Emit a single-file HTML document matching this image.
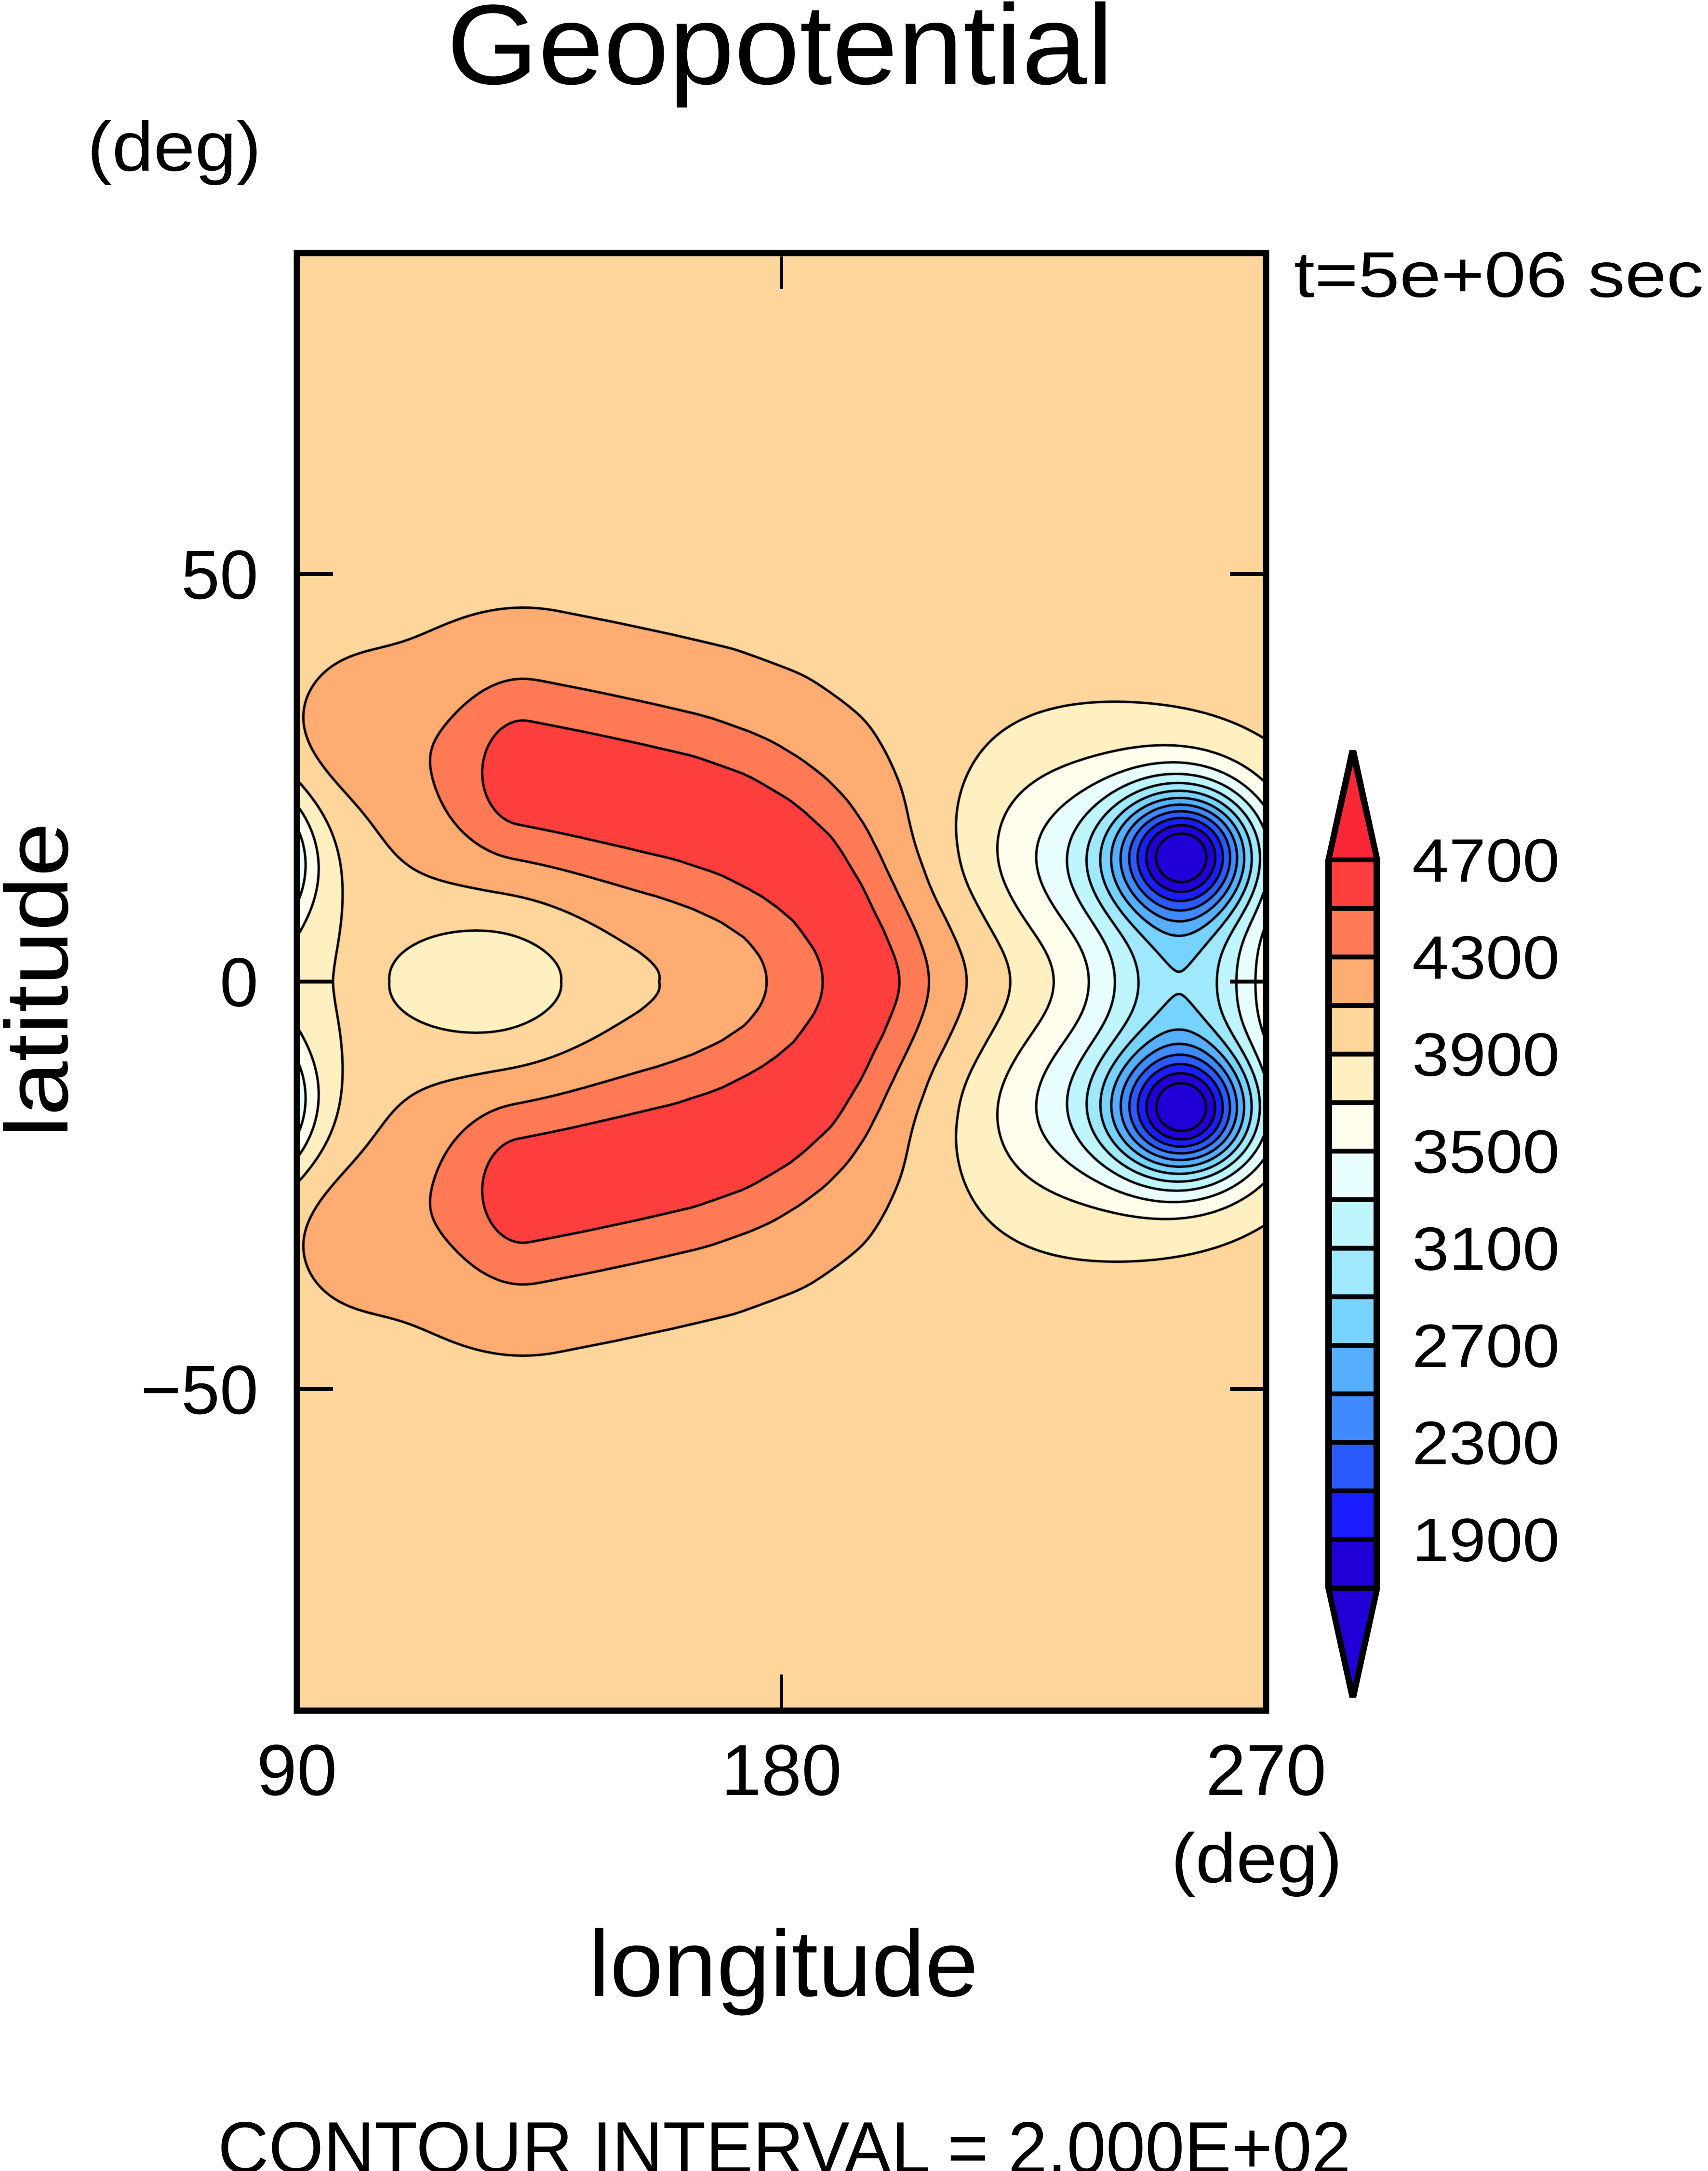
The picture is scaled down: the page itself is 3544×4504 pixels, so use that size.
<!DOCTYPE html>
<html><head><meta charset="utf-8">
<style>
html,body{margin:0;padding:0;background:#fff;}
#wrap{position:relative;width:3544px;height:4504px;overflow:hidden;background:#fff;}
#field{position:absolute;left:623px;top:532px;}
#ov{position:absolute;left:0;top:0;}
text{font-family:"Liberation Sans",sans-serif;fill:#000;}
</style></head>
<body>
<div id="wrap">
<canvas id="field" width="1997" height="3011"></canvas>
<svg id="ov" width="3544" height="4504" xmlns="http://www.w3.org/2000/svg">
  <text x="927" y="174" font-size="236" textLength="1383" lengthAdjust="spacingAndGlyphs">Geopotential</text>
  <text x="181" y="354" font-size="145" textLength="361" lengthAdjust="spacingAndGlyphs">(deg)</text>
  <text x="2685" y="616" font-size="134" textLength="850" lengthAdjust="spacingAndGlyphs">t=5e+06 sec</text>
  <text x="2430" y="3905" font-size="145" textLength="355" lengthAdjust="spacingAndGlyphs">(deg)</text>
  <text x="1221" y="4141" font-size="195" textLength="809" lengthAdjust="spacingAndGlyphs">longitude</text>
  <text transform="translate(140,2360) rotate(-90)" x="0" y="0" font-size="185" textLength="654" lengthAdjust="spacingAndGlyphs">latitude</text>
  <text x="452" y="4508" font-size="152" textLength="2351" lengthAdjust="spacingAndGlyphs">CONTOUR INTERVAL = 2.000E+02</text>
  <g id="axes"></g>
  <g id="cbar"></g>
</svg>
</div>
<script>
// ---- data ----
const levels=[1700,1900,2100,2300,2500,2700,2900,3100,3300,3500,3700,3900,4100,4300,4500,4700];
const levelColors=["#2000d6","#2000d6","#1a1efe","#2a5afe","#3e8afe","#56affe","#76d2fe","#9fe8fe","#bff5fd","#e9fefe","#fffeec","#fef0c0","#fed59a","#ffac73","#ff7a55","#ff3e3e","#fa2837"];
const colorbarLabels=[1900,2300,2700,3100,3500,3900,4300,4700];
const latTicks=[50,0,-50];
const latTickLabels=["50","0","\u221250"];
const lonTicks=[90,180,270];
const lonTickLabels=["90","180","270"];
const baseValue=4000;
// upper arm of the high ridge (lower arm is its mirror image)
const ridgeLon=[132,142,152,162,171,179,186,191,194.5,196];
const ridgeLat=[25.5,24.2,22.8,21.3,19.3,16.5,13,8.5,4,0];
const ridgeAmp=[250,420];
const ridgeSig=[6,12];
const ridgeLonStretch=[1.0,1.6];
const blobLon=[126,255,255,242,242,255,235,235,74,74,61,61,74,100,100];
const blobLat=[0,15.8,-16,14,-14,0,18,-18,15,-15,13,-13,0,31,-31];
const blobAmp=[-290,-1900,-1900,-550,-550,-700,-150,-150,-2600,-2600,-450,-450,-250,150,150];
const blobSigLon=[13.5,9,9,20,20,10,25,25,9,9,20,20,10,8,8];
const blobSigLat=[7.6,5.5,5.5,9,9,8,12,12,5.5,5.5,9,9,8,6,6];

// ---- axes ----
function X(lon){return 616+(lon-90)*11.172;}
function Y(lat){return 2036.5-lat*16.91;}
const CX=623, CY=532;

function armDist2(px,py,sign,S){
  let best=1e12;
  for(let i=0;i<ridgeLon.length-1;i++){
    const ax=ridgeLon[i]/S, ay=sign*ridgeLat[i];
    const dx=ridgeLon[i+1]/S-ax, dy=sign*ridgeLat[i+1]-ay;
    let t=((px-ax)*dx+(py-ay)*dy)/(dx*dx+dy*dy);
    if(t<0)t=0; if(t>1)t=1;
    const ex=px-ax-t*dx, ey=py-ay-t*dy;
    const d2=ex*ex+ey*ey;
    if(d2<best)best=d2;
  }
  return best;
}
function field(lon,lat){
  let v=baseValue;
  for(let k=0;k<ridgeAmp.length;k++){
    const S=ridgeLonStretch[k];
    const a=armDist2(lon/S,lat,1,S), b=armDist2(lon/S,lat,-1,S);
    const m=Math.min(a,b);
    const tau=0.25*m+5;
    const d2=Math.max(0,m-tau*Math.log(Math.exp(-(a-m)/tau)+Math.exp(-(b-m)/tau)));
    v+=ridgeAmp[k]*Math.exp(-d2/(2*ridgeSig[k]*ridgeSig[k]));
  }
  for(let q=0;q<blobLon.length;q++){
    const u=(lon-blobLon[q])/blobSigLon[q], c=(lat-blobLat[q])/blobSigLat[q];
    v+=blobAmp[q]*Math.exp(-0.5*(u*u+c*c));
  }
  return v;
}

// grid
const STEP=0.25, LON0=88, LAT0=-92;
const NX=Math.round((272-LON0)/STEP)+1, NY=Math.round((92-LAT0)/STEP)+1;
const G=new Float64Array(NX*NY);
for(let j=0;j<NY;j++)for(let i=0;i<NX;i++)G[j*NX+i]=field(LON0+i*STEP,LAT0+j*STEP);

const cv=document.getElementById('field');
const ctx=cv.getContext('2d');
const W=cv.width,H=cv.height;
const img=ctx.createImageData(W,H);
const rgb=levelColors.map(c=>[parseInt(c.substr(1,2),16),parseInt(c.substr(3,2),16),parseInt(c.substr(5,2),16)]);
function colorIndex(v){let k=0;while(k<levels.length&&v>=levels[k])k++;return k;}
for(let py=0;py<H;py++){
  const lat=(2036.5-(CY+py+0.5))/16.91;
  const gj=(lat-LAT0)/STEP; const j0=Math.floor(gj), fj=gj-j0;
  for(let px=0;px<W;px++){
    const lon=90+(CX+px+0.5-616)/11.172;
    const gi=(lon-LON0)/STEP; const i0=Math.floor(gi), fi=gi-i0;
    const a=G[j0*NX+i0],b=G[j0*NX+i0+1],c=G[(j0+1)*NX+i0],d=G[(j0+1)*NX+i0+1];
    const v=(a*(1-fi)+b*fi)*(1-fj)+(c*(1-fi)+d*fi)*fj;
    const col=rgb[colorIndex(v)];
    const o=(py*W+px)*4;
    img.data[o]=col[0];img.data[o+1]=col[1];img.data[o+2]=col[2];img.data[o+3]=255;
  }
}
ctx.putImageData(img,0,0);

// contours (marching squares)
ctx.strokeStyle='#000';ctx.lineWidth=5;ctx.lineCap='round';ctx.lineJoin='round';
function gx(i){return X(LON0+i*STEP)-CX;}
function gy(j){return Y(LAT0+j*STEP)-CY;}
for(const L of levels){
  ctx.beginPath();
  for(let j=0;j<NY-1;j++)for(let i=0;i<NX-1;i++){
    const v0=G[j*NX+i],v1=G[j*NX+i+1],v2=G[(j+1)*NX+i+1],v3=G[(j+1)*NX+i];
    const idx=(v0>L?1:0)|(v1>L?2:0)|(v2>L?4:0)|(v3>L?8:0);
    if(idx===0||idx===15)continue;
    const x0=gx(i),x1=gx(i+1),y0=gy(j),y1=gy(j+1);
    const e=[
      ()=>[x0+(x1-x0)*(L-v0)/(v1-v0),y0],
      ()=>[x1,y0+(y1-y0)*(L-v1)/(v2-v1)],
      ()=>[x0+(x1-x0)*(L-v3)/(v2-v3),y1],
      ()=>[x0,y0+(y1-y0)*(L-v0)/(v3-v0)]
    ];
    const segs={1:[[3,0]],2:[[0,1]],3:[[3,1]],4:[[1,2]],5:[[3,0],[1,2]],6:[[0,2]],7:[[3,2]],8:[[2,3]],9:[[0,2]],10:[[0,1],[2,3]],11:[[1,2]],12:[[1,3]],13:[[0,1]],14:[[0,3]]}[idx];
    for(const s of segs){const p=e[s[0]](),q=e[s[1]]();ctx.moveTo(p[0],p[1]);ctx.lineTo(q[0],q[1]);}
  }
  ctx.stroke();
}

// ---- SVG overlay ----
const NS='http://www.w3.org/2000/svg';
const axes=document.getElementById('axes');
const cbar=document.getElementById('cbar');
function el(tag,attrs,parent){const e=document.createElementNS(NS,tag);for(const k in attrs)e.setAttribute(k,attrs[k]);parent.appendChild(e);return e;}

const frame=el('rect',{x:616,y:525,width:2011,height:3024,fill:'none',stroke:'#000','stroke-width':13},axes);



latTicks.forEach((lat,k)=>{
  const y=Y(lat);
  const tl=el('line',{x1:623,y1:y,x2:691,y2:y,stroke:'#000','stroke-width':8},axes);
  
  
  const tr=el('line',{x1:2552,y1:y,x2:2620,y2:y,stroke:'#000','stroke-width':8},axes);
  
  
  const t=el('text',{x:536,y:y+51,'font-size':144,'text-anchor':'end'},axes);
  t.textContent=latTickLabels[k];
  
  
});
lonTicks.forEach((lon,k)=>{
  const x=X(lon);
  const tt=el('line',{x1:x,y1:532,x2:x,y2:600,stroke:'#000','stroke-width':7},axes);
  
  
  const tb=el('line',{x1:x,y1:3474,x2:x,y2:3543,stroke:'#000','stroke-width':7},axes);
  
  
  const t=el('text',{x:x,y:3724,'font-size':150,'text-anchor':'middle'},axes);
  t.textContent=lonTickLabels[k];
  
  
});

// colorbar
const cbTop=1784, cbStep=100.7, cbL=2750, cbR=2864, cbMid=2807;
function cbY(L){return cbTop+(levels[levels.length-1]-L)/200*cbStep;}
const yBot=cbY(levels[0]);
const outline=el('polygon',{points:`${cbMid-7},1556 ${cbMid+7},1556 ${cbR},${cbTop} ${cbR},${yBot} ${cbMid+7},3522 ${cbMid-7},3522 ${cbL},${yBot} ${cbL},${cbTop}`,fill:'#000'},cbar);


const triTop=el('polygon',{points:`${cbMid},1588 2850,1779 2764,1779`,fill:levelColors[levelColors.length-1]},cbar);


const triBot=el('polygon',{points:`2764,${yBot+6} 2850,${yBot+6} ${cbMid},3494`,fill:levelColors[0]},cbar);


for(let k=0;k<levels.length-1;k++){
  const yT=cbY(levels[k+1]), yB=cbY(levels[k]);
  const r=el('rect',{x:2764,y:yT+5,width:86,height:yB-yT-10,fill:levelColors[k+1]},cbar);
  
  
}
colorbarLabels.forEach(L=>{
  const t=el('text',{x:2930,y:cbY(L)+45,'font-size':127,textLength:306,lengthAdjust:'spacingAndGlyphs'},cbar);
  t.textContent=String(L);
  
  
});
</script>
</body></html>
